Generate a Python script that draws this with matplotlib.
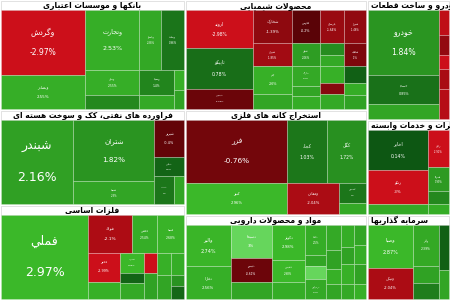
import matplotlib
matplotlib.use('Agg')
import matplotlib.pyplot as plt
from matplotlib.patches import Rectangle

# ---------------- data ----------------
sector_names = ["بانکها و موسسات اعتباری", "فراورده های نفتی، کک و سوخت هسته ای", "فلزات اساسی",
                "محصولات شیمیایی", "استخراج کانه های فلزی", "مواد و محصولات دارویی",
                "خودرو و ساخت قطعات", "مخابرات و خدمات وابسته", "سرمایه گذاریها"]
sector_weights = [20350, 17575, 17575, 20020, 19110, 15470, 9960, 7885, 7055]
sector_columns = [[0, 1, 2], [3, 4, 5], [6, 7, 8]]

bank_names = ["وگردش", "وبصادر", "وتجارت", "وپاسار", "وبملت", "وملل", "ونوین", "وسینا", "وخاور", "وکار", "وپست"]
bank_weights = [5525, 2890, 3300, 1320, 1380, 1375, 770, 875, 490, 200, 190]
bank_changes = [-2.97, 2.55, 2.53, 2.38, 0.96, 2.55, 1.5, 1.40, 2.4, 2.6, 2.2]
bank_tree = [[0, 1], [[2, 3, 4], [[5, 6], [7, 8], [9, 10]]]]

oil_names = ["شبندر", "شتران", "شسپا", "شبریز", "شپاس", "شنفت", "شاوان"]
oil_weights = [6205, 5084, 1886, 1110, 600, 560, 280]
oil_changes = [2.16, 1.82, 2.3, -0.4, 0.5, 1.0, 2.3]
oil_tree = [0, [1, 2], [3, 4, [5, 6]]]

metal_names = ["فملي", "فولاد", "فخاس", "فسپا", "فخوز", "فباهنر", "فسرب", "فنورد", "فاسمین",
               "فجر", "فروی", "فجام", "فزرین", "فگستر", "فرود", "فلوله"]
metal_weights = [7656, 1716, 1014, 1053, 960, 576, 525, 250, 425, 273, 351, 322, 350, 299, 156, 169]
metal_changes = [2.97, -2.1, 2.54, 2.68, -2.99, 2.6, 2.88, 0.5, 2.4, -2.9, 2.2, 2.6, 2.3, 2.5, 1.8, 0.6]
metal_tree = [0, [[1, 2, 3], [[4, 5], [6, 7, 8], [9, 10], [11, 12], [13, 14, 15]]]]

chem_names = ["اروند", "تاپیکو", "شپدیس", "شخارک", "فارس", "پارسان", "شیراز", "شیران", "جم", "شکلر",
              "شفن", "شاراک", "شپترو", "شغدیر", "نوری", "شکربن", "شفارس", "شدوص", "شصدف",
              "شلعاب", "خراسان", "کرماشا", "شسینا"]
chem_weights = [2584, 2720, 1360, 1287, 924, 825, 726, 858, 1092, 585,
                616, 560, 280, 364, 300, 250, 425, 275, 375, 484, 374, 264, 308]
chem_changes = [-2.98, 0.78, -0.58, -1.39, -0.2, -1.64, -1.46, -1.85, 2.6, 2.3,
                2.06, 2.4, 2.3, 2.5, 1.6, 2.4, 2.6, -1.2, 2.4, -1.0, 0.4, 2.5, 2.2]
chem_tree = [[0, 1, 2], [[3, 4, 5, 6], [[7, 8, 9], [10, 11, 12, 13], [14, 15, 16, 17, 18], [19, 20, 21, 22]]]]

mine_names = ["فزر", "کچاد", "کگل", "کنور", "ومعادن", "کسعدی", "کروی"]
mine_weights = [6324, 2542, 2418, 3162, 1643, 540, 297]
mine_changes = [-0.76, 1.03, 1.72, 2.96, -2.04, 1.0, 2.4]
mine_tree = [[0, 1, 2], [3, 4, [5, 6]]]

pharma_names = ["والبر", "دفارا", "دسبحا", "دتیمور", "دسینا", "دکوثر", "دشیمی", "دیران",
                "دلقما", "دعبید", "دجابر", "دزهراوی", "دکپسول", "دامین", "داسوه", "دپارس",
                "درازک", "دتولید", "دابور", "دکیمی", "دفرا", "ددام", "دشیری", "دبالک"]
pharma_weights = [1890, 1485, 1386, 1050, 714, 1155, 759, 561, 660, 264, 286, 440,
                  375, 300, 225, 225, 286, 234, 260, 195, 240, 240, 240, 180]
pharma_changes = [2.74, 2.56, 3.0, -0.61, 2.3, 2.98, 2.98, 2.5, 2.5, 2.3, 3.0, 2.4,
                  2.4, 2.2, 2.6, 2.3, 2.5, 2.2, 2.6, 2.4, 2.3, 2.5, 2.2, 2.6]
pharma_tree = [[0, 1], [2, 3, 4], [5, 6, 7], [8, 9, 10, 11], [12, 13, 14, 15], [16, 17, 18, 19], [20, 21, 22, 23]]

auto_names = ["خودرو", "خساپا", "خزامیا", "خمحرکه", "خپارس", "خکاوه", "خگستر", "خمهر"]
auto_weights = [4818, 2117, 1095, 250, 200, 150, 200, 300]
auto_changes = [1.84, 0.85, 2.3, -2.5, -1.5, -2.8, -2.0, -2.3]
auto_tree = [[0, 1, 2], [3, 4, 5, 6, 7]]

tel_names = ["اخابر", "رتکو", "رکیش", "رایان", "همراه", "هایوب", "اوان"]
tel_weights = [2440, 2013, 610, 814, 506, 286, 220]
tel_changes = [0.14, -3.0, 2.4, -2.91, 1.99, 1.48, 2.5]
tel_tree = [[0, 1, 2], [3, 4, 5, 6]]

inv_names = ["وصبا", "ونیکی", "وآذر", "وبهمن", "وصنا", "وغدیر", "وسکاب"]
inv_weights = [2024, 1472, 1134, 486, 432, 460, 300]
inv_changes = [2.87, -2.04, 2.39, 2.2, 1.2, 0.4, 2.3]
inv_tree = [[0, 1], [2, 3, 4], [5, 6]]

sectors = [
    (bank_names, bank_weights, bank_changes, bank_tree, 'h'),
    (oil_names, oil_weights, oil_changes, oil_tree, 'h'),
    (metal_names, metal_weights, metal_changes, metal_tree, 'h'),
    (chem_names, chem_weights, chem_changes, chem_tree, 'h'),
    (mine_names, mine_weights, mine_changes, mine_tree, 'v'),
    (pharma_names, pharma_weights, pharma_changes, pharma_tree, 'h'),
    (auto_names, auto_weights, auto_changes, auto_tree, 'h'),
    (tel_names, tel_weights, tel_changes, tel_tree, 'h'),
    (inv_names, inv_weights, inv_changes, inv_tree, 'h'),
]
header_left = [False] * 6 + [True] * 3

# ---------------- Arabic/Persian shaping ----------------
DUAL = {'\u0626': 0xFE89, '\u0628': 0xFE8F, '\u062A': 0xFE95, '\u062B': 0xFE99, '\u062C': 0xFE9D,
        '\u062D': 0xFEA1, '\u062E': 0xFEA5, '\u0633': 0xFEB1, '\u0634': 0xFEB5, '\u0635': 0xFEB9,
        '\u0636': 0xFEBD, '\u0637': 0xFEC1, '\u0638': 0xFEC5, '\u0639': 0xFEC9, '\u063A': 0xFECD,
        '\u0641': 0xFED1, '\u0642': 0xFED5, '\u0643': 0xFED9, '\u0644': 0xFEDD, '\u0645': 0xFEE1,
        '\u0646': 0xFEE5, '\u0647': 0xFEE9, '\u064A': 0xFEF1, '\u067E': 0xFB56, '\u0686': 0xFB7A,
        '\u06A9': 0xFB8E, '\u06AF': 0xFB92, '\u06CC': 0xFBFC}
RIGHT = {'\u0622': 0xFE81, '\u0623': 0xFE83, '\u0624': 0xFE85, '\u0625': 0xFE87, '\u0627': 0xFE8D,
         '\u0629': 0xFE93, '\u062F': 0xFEA9, '\u0630': 0xFEAB, '\u0631': 0xFEAD, '\u0632': 0xFEAF,
         '\u0648': 0xFEED, '\u0649': 0xFEEF, '\u0698': 0xFB8A}


def shape(s):
    out = []
    n = len(s)
    i = 0
    while i < n:
        ch = s[i]
        prev = s[i - 1] if i > 0 else ''
        nxt = s[i + 1] if i + 1 < n else ''
        cp = prev in DUAL
        if ch == '\u0644' and nxt in ('\u0627', '\u0622'):
            base = 0xFEFB if nxt == '\u0627' else 0xFEF5
            out.append(chr(base + (1 if cp else 0)))
            i += 2
            continue
        if ch in DUAL:
            b = DUAL[ch]
            cn = (nxt in DUAL) or (nxt in RIGHT)
            if cp and cn:
                f = b + 3
            elif cp:
                f = b + 1
            elif cn:
                f = b + 2
            else:
                f = b
            out.append(chr(f))
        elif ch in RIGHT:
            out.append(chr(RIGHT[ch] + (1 if cp else 0)))
        elif ch == '\u200c':
            pass
        else:
            out.append(ch)
        i += 1
    return ''.join(reversed(out))


def tile_color(c):
    if c >= 2.995:
        return (0.40, 0.84, 0.36)
    t = min(abs(c) / 2.8, 1.0)
    if c >= 0:
        a, b = (0.04, 0.32, 0.07), (0.23, 0.72, 0.16)
    else:
        a, b = (0.32, 0.01, 0.02), (0.80, 0.06, 0.10)
    return tuple(a[k] + (b[k] - a[k]) * t for k in range(3))


def node_weight(node, weights):
    if isinstance(node, int):
        return weights[node]
    return sum(node_weight(ch, weights) for ch in node)


PX_PER_PT = 100 / 72


def draw_leaf(ax, idx, names, changes, x, y, w, h):
    c = changes[idx]
    ax.add_patch(Rectangle((x, y), w, h, facecolor=tile_color(c),
                           edgecolor=(1, 1, 1, 0.3), linewidth=0.5))
    m = min(w, h)
    fs = 9.0 if m >= 70 else 0.085 * m
    if fs < 1.5:
        return
    off = 1.25 * fs * PX_PER_PT
    cx, cy = x + w / 2, y + h / 2
    ax.text(cx, cy - off, shape(names[idx]), color='white', fontsize=fs,
            ha='center', va='center', family='DejaVu Sans')
    ax.text(cx, cy + off, f"{c:g}%", color='white', fontsize=fs,
            ha='center', va='center', family='DejaVu Sans')


def layout(ax, node, names, weights, changes, x, y, w, h, horiz):
    if isinstance(node, int):
        draw_leaf(ax, node, names, changes, x, y, w, h)
        return
    total = node_weight(node, weights)
    pos = 0.0
    for ch in node:
        frac = node_weight(ch, weights) / total
        if horiz:
            cw = w * frac
            layout(ax, ch, names, weights, changes, x + pos, y, cw, h, not horiz)
            pos += cw
        else:
            chh = h * frac
            layout(ax, ch, names, weights, changes, x, y + pos, w, chh, not horiz)
            pos += chh


# ---------------- figure ----------------
W, H = 450, 300
fig = plt.figure(figsize=(4.5, 3.0), dpi=100)
fig.patch.set_facecolor('white')
ax = fig.add_axes([0, 0, 1, 1])
ax.set_xlim(0, W)
ax.set_ylim(H, 0)
ax.axis('off')

GAP = 1.0
HEADER = 9.0
total_all = sum(sector_weights)
xpos = 0.0
for col in sector_columns:
    col_total = sum(sector_weights[s] for s in col)
    cw = W * col_total / total_all
    ypos = 0.0
    for s in col:
        sh = H * sector_weights[s] / col_total
        sx, sy, sw, shh = xpos + GAP, ypos + GAP, cw - 2 * GAP, sh - 2 * GAP
        hdr = Rectangle((sx, sy), sw, HEADER, facecolor='white', edgecolor='#cccccc', linewidth=0.4)
        ax.add_patch(hdr)
        if header_left[s]:
            t = ax.text(sx + 3, sy + HEADER / 2 + 0.3, shape(sector_names[s]), fontsize=5.5,
                        fontweight='bold', ha='left', va='center', color='black', family='DejaVu Sans')
        else:
            t = ax.text(sx + sw / 2, sy + HEADER / 2 + 0.3, shape(sector_names[s]), fontsize=5.5,
                        fontweight='bold', ha='center', va='center', color='black', family='DejaVu Sans')
        t.set_clip_path(hdr)
        names, weights, changes, tree, orient = sectors[s]
        layout(ax, tree, names, weights, changes, sx, sy + HEADER, sw, shh - HEADER, orient == 'h')
        ypos += sh
    xpos += cw

fig.savefig('out.png', dpi=100, facecolor='white')
